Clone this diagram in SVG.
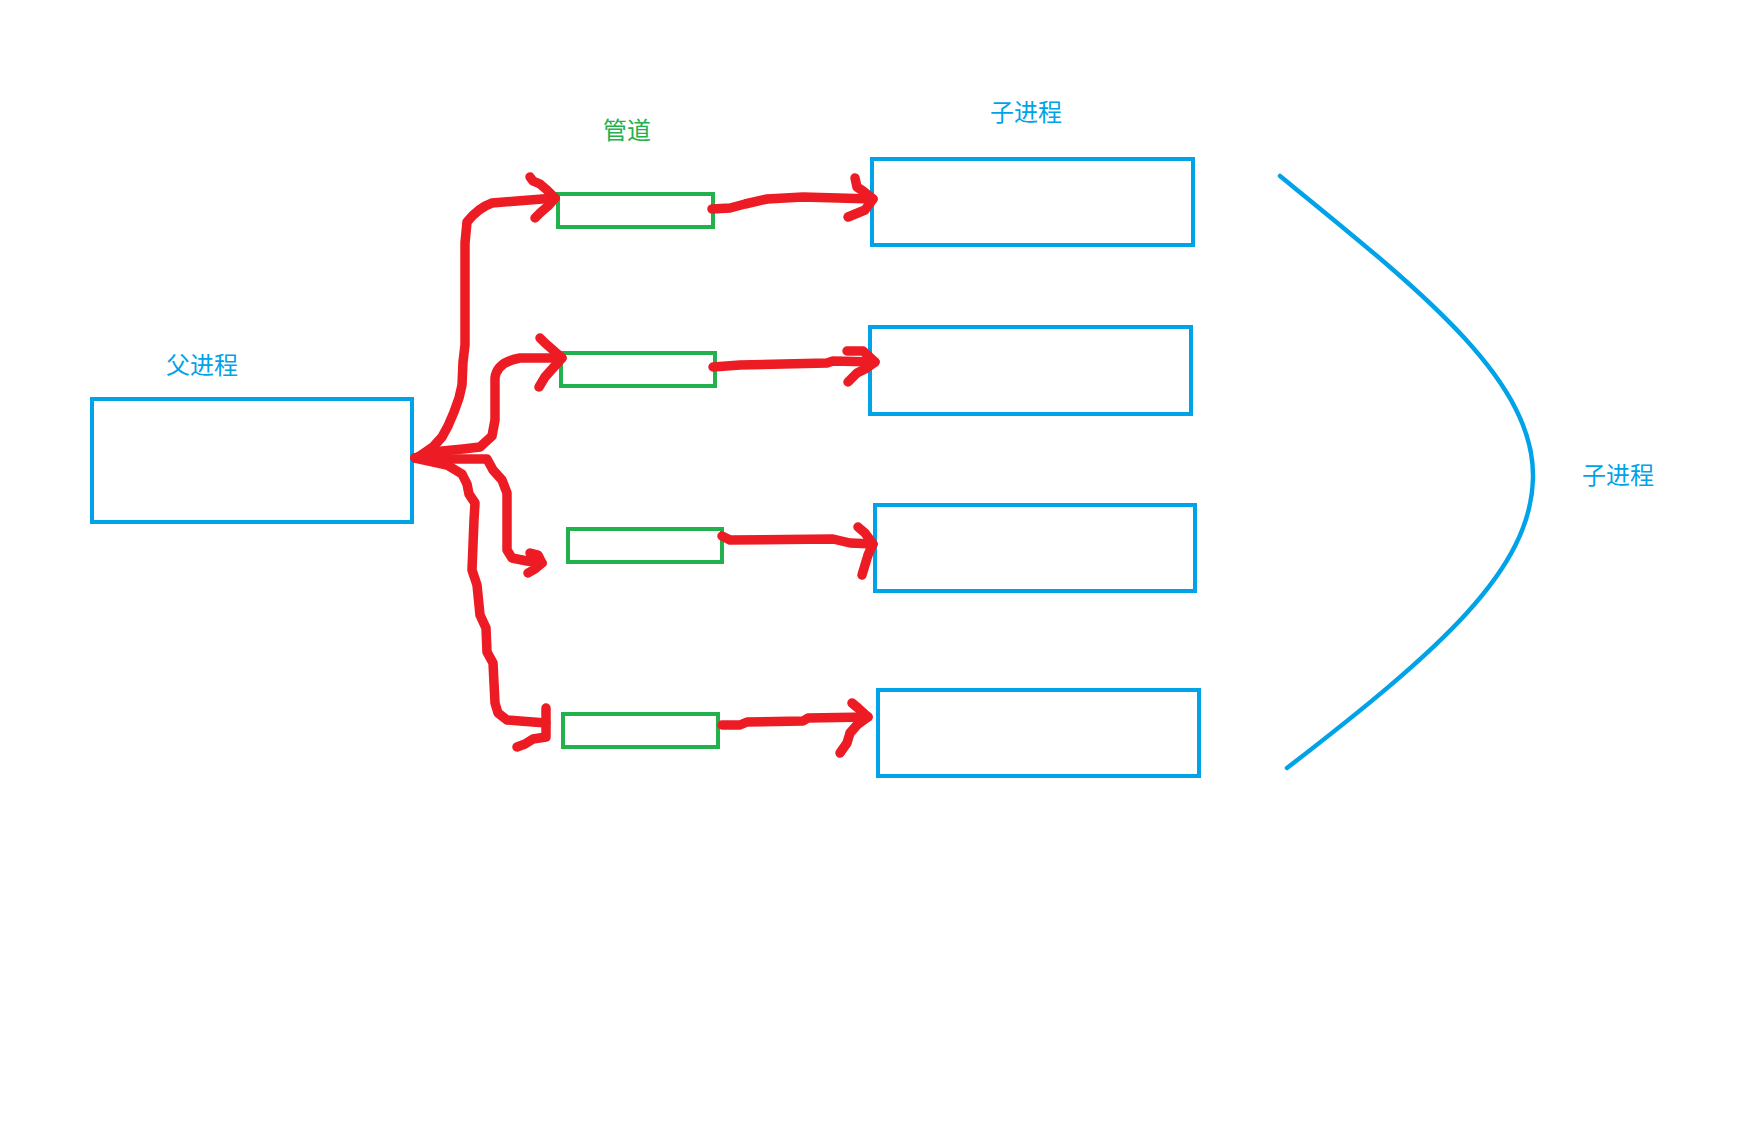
<svg xmlns="http://www.w3.org/2000/svg" width="1737" height="1126" viewBox="0 0 1737 1126">
<style>
.proc{fill:none;stroke:#00a2e8;stroke-width:4}
.pipe{fill:none;stroke:#22b14c;stroke-width:4}
.lbl{font-family:"Noto Sans CJK SC","Microsoft YaHei",sans-serif;font-size:24px}
.blue{fill:#00a2e8}
.green{fill:#22b14c}
.red{fill:none;stroke:#ed1c24;stroke-width:9.5;stroke-linecap:round;stroke-linejoin:round}
.bracket{fill:none;stroke:#00a2e8;stroke-width:4.5;stroke-linecap:round}
</style>
<rect width="1737" height="1126" fill="#ffffff"/>
<g id="parent">
<rect class="proc" x="92" y="399" width="320" height="123"/>
<text class="lbl blue" x="166" y="374">父进程</text>
</g>
<g id="pipe-label"><text class="lbl green" x="603" y="139">管道</text></g>
<g id="pipe1"><rect class="pipe" x="558" y="194" width="155" height="33"/></g>
<g id="pipe2"><rect class="pipe" x="561" y="353" width="154" height="33"/></g>
<g id="pipe3"><rect class="pipe" x="568" y="529" width="154" height="33"/></g>
<g id="pipe4"><rect class="pipe" x="563" y="714" width="155" height="33"/></g>
<g id="child-label"><text class="lbl blue" x="990" y="121">子进程</text></g>
<g id="child1"><rect class="proc" x="872" y="159" width="321" height="86"/></g>
<g id="child2"><rect class="proc" x="870" y="327" width="321" height="87"/></g>
<g id="child3"><rect class="proc" x="875" y="505" width="320" height="86"/></g>
<g id="child4"><rect class="proc" x="878" y="690" width="321" height="86"/></g>
<g id="group-bracket">
<path class="bracket" d="M1280,176 C1420,290 1535,380 1533,478 C1531,570 1440,650 1287,768"/>
<text class="lbl blue" x="1582" y="484">子进程</text>
</g>
<g id="connectors">
<path class="red" d="M417,458 L433,447 L442,437 L448,426 L454,412 L459,398 L462,385 L463,362 L465,345 L465,243 L467,222 Q478,208 492,203 L517,201 L555,198"/>
<path class="red" d="M530,177 L533,181 L540,184 L547,190 L555,198 L548,206 L540,213 L535,218"/>
<path class="red" d="M415,458 L432,452 L463,449 L480,447 L492,436 L495,420 L495,378 Q497,362 520,358 L562,358"/>
<path class="red" d="M540,338 L545,343 L553,350 L562,358 L553,368 L545,377 L539,387"/>
<path class="red" d="M415,458 L448,459 L487,459 L493,470 L502,480 L507,493 L507,550 L512,558 L527,561 L542,563"/>
<path class="red" d="M530,553 L538,555 L542,563 L535,569 L528,573"/>
<path class="red" d="M415,458 L447,465 L462,474 L467,484 L469,494 L475,503 L474,520 L472,570 L477,585 L480,615 L486,628 L487,652 L493,663 L495,703 L498,713 L507,720 L520,721 L546,723"/>
<path class="red" d="M546,708 L546,737 L533,739 L525,744 L517,747"/>
<path class="red" d="M712,209 L730,208 L745,204 L767,199 L803,197 L873,199"/>
<path class="red" d="M855,178 L857,187 L863,191 L873,199 L865,210 L848,217"/>
<path class="red" d="M713,367 L740,365 L827,363 L833,361 L875,362"/>
<path class="red" d="M847,351 L863,351 L875,362 L865,369 L857,373 L848,382"/>
<path class="red" d="M722,536 L730,540 L833,539 L850,543 L873,544"/>
<path class="red" d="M858,527 L865,533 L873,544 L868,555 L865,565 L862,575"/>
<path class="red" d="M722,725 L740,725 L747,722 L803,721 L808,718 L868,717"/>
<path class="red" d="M852,703 L858,708 L868,717 L857,725 L850,733 L847,743 L840,753"/>
</g>
</svg>
